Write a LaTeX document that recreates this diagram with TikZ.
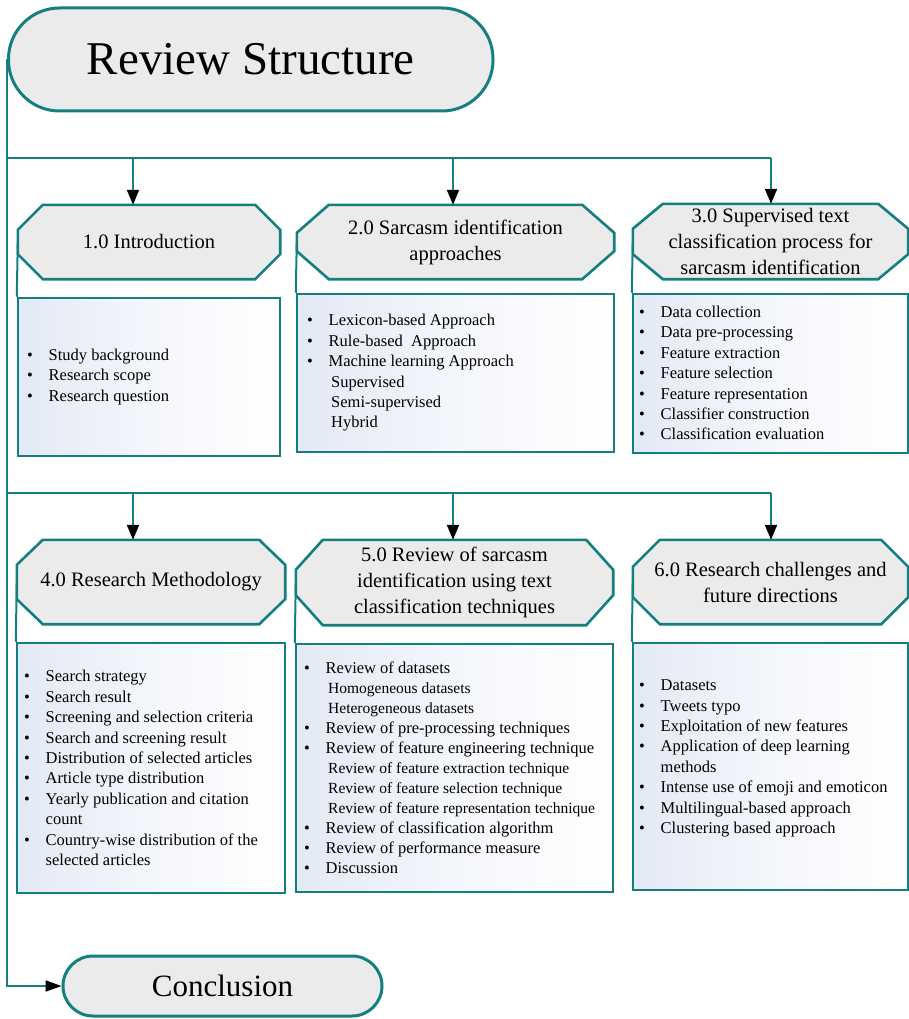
\documentclass[tikz,border=0pt]{standalone}
\usepackage{fontspec}
\setmainfont{Liberation Serif}
\usetikzlibrary{arrows.meta,calc}
\definecolor{teal0}{HTML}{137F7F}
\definecolor{hfill}{HTML}{EBEBEB}
\definecolor{cb}{HTML}{E3E9F5}
\pgfdeclarelayer{bg}
\pgfsetlayers{bg,main}
\newlength\bw \setlength\bw{21.5pt}
\newcommand\bi[1]{\makebox[\bw][l]{\textbullet}#1}
\newcommand\ci[1]{\hspace*{\bw}#1}
\newcommand\si[1]{\hspace*{\dimexpr\bw+2.5pt\relax}#1}
\newcommand\ssi[1]{\hspace*{\dimexpr\bw+2.5pt\relax}{\fontsize{15.5}{20}\selectfont #1}}
\newcommand\octa[3]{%
  \begin{pgfonlayer}{bg}
  \draw[hline] ($(#1.north west)+(#2pt,0pt)$) -- ($(#1.north east)+(-#2pt,0pt)$)
    -- ($(#1.north east)+(0pt,-#3pt)$) -- ($(#1.south east)+(0pt,#3pt)$)
    -- ($(#1.south east)+(-#2pt,0pt)$) -- ($(#1.south west)+(#2pt,0pt)$)
    -- ($(#1.south west)+(0pt,#3pt)$) -- ($(#1.north west)+(0pt,-#3pt)$) -- cycle;
  \end{pgfonlayer}}
\tikzset{
  conn/.style={draw=teal0, line width=2pt},
  arr/.style={conn, -{Triangle[length=15pt,width=12pt,color=black]}},
  term/.style={draw=teal0, line width=3pt, fill=hfill, rounded corners=#1, inner sep=0pt},
  hline/.style={draw=teal0, line width=2.6pt, fill=hfill, line join=miter},
  hdr/.style={align=center, inner sep=0pt, font=\fontsize{20.5}{26}\selectfont},
  cbox/.style={draw=teal0, line width=2.5pt, left color=cb, right color=white, middle color=white!60!cb, inner sep=0pt},
  lst/.style={align=left, anchor=west, inner sep=0pt, font=\fontsize{16.5}{20.4}\selectfont},
}
\begin{document}
\begin{tikzpicture}[x=1pt,y=-1pt]
\useasboundingbox (0,0) rectangle (909,1019);

% terminals
\node[term=51pt, minimum width=484.5pt, minimum height=103pt,
      font=\fontsize{47}{56}\selectfont] (top) at (250.75,59.5) {Review Structure};
\node[term=30pt, minimum width=319pt, minimum height=60pt,
      font=\fontsize{31}{37}\selectfont] (concl) at (222.5,986) {Conclusion};

% headers row 1
\node[hdr, minimum width=262pt, minimum height=74pt] (h1) at (149,242) {1.0 Introduction};
\node[hdr, minimum width=317pt, minimum height=74pt] (h2) at (455.5,242) {2.0 Sarcasm identification\\approaches};
\node[hdr, minimum width=275pt, minimum height=75pt] (h3) at (770.5,241.5) {3.0 Supervised text\\classification process for\\sarcasm identification};
\octa{h1}{25}{25}
\octa{h2}{32}{28}
\octa{h3}{30}{25}

% headers row 2
\node[hdr, minimum width=268pt, minimum height=84pt] (h4) at (151,582) {4.0 Research Methodology};
\node[hdr, minimum width=317pt, minimum height=85pt] (h5) at (454.5,582.5) {5.0 Review of sarcasm\\identification using text\\classification techniques};
\node[hdr, minimum width=275pt, minimum height=84pt] (h6) at (770.5,582) {6.0 Research challenges and\\future directions};
\octa{h4}{26}{25}
\octa{h5}{27}{30}
\octa{h6}{27}{27}

% content boxes
\node[cbox, minimum width=262pt, minimum height=158pt] (c1) at (149,377) {};
\node[cbox, minimum width=317pt, minimum height=158pt] (c2) at (455.5,373) {};
\node[cbox, minimum width=275pt, minimum height=159pt] (c3) at (770.5,373.5) {};
\node[cbox, minimum width=268pt, minimum height=250pt] (c4) at (151,768) {};
\node[cbox, minimum width=317pt, minimum height=248pt] (c5) at (454.5,768) {};
\node[cbox, minimum width=275pt, minimum height=247pt] (c6) at (770.5,766.5) {};

% lists
\node[lst] (l1) at (27,377) {\bi{Study background}\\\bi{Research scope}\\\bi{Research question}};
\node[lst] (l2) at (307,373) {\bi{Lexicon-based Approach}\\\bi{Rule-based~~Approach}\\\bi{Machine learning Approach}\\\si{Supervised}\\\si{Semi-supervised}\\\si{Hybrid}};
\node[lst] (l3) at (639,373) {\bi{Data collection}\\\bi{Data pre-processing}\\\bi{Feature extraction}\\\bi{Feature selection}\\\bi{Feature representation}\\\bi{Classifier construction}\\\bi{Classification evaluation}};
\node[lst] (l4) at (24,768) {\bi{Search strategy}\\\bi{Search result}\\\bi{Screening and selection criteria}\\\bi{Search and screening result}\\\bi{Distribution of selected articles}\\\bi{Article type distribution}\\\bi{Yearly publication and citation}\\\ci{count}\\\bi{Country-wise distribution of the}\\\ci{selected articles}};
\node[lst, font=\fontsize{16.5}{20}\selectfont] (l5) at (304,768) {\bi{Review of datasets}\\\ssi{Homogeneous datasets}\\\ssi{Heterogeneous datasets}\\\bi{Review of pre-processing techniques}\\\bi{Review of feature engineering technique}\\\ssi{Review of feature extraction technique}\\\ssi{Review of feature selection technique}\\\ssi{Review of feature representation technique}\\\bi{Review of classification algorithm}\\\bi{Review of performance measure}\\\bi{Discussion}};
\node[lst] (l6) at (639,758.5) {\bi{Datasets}\\\bi{Tweets typo}\\\bi{Exploitation of new features}\\\bi{Application of deep learning}\\\ci{methods}\\\bi{Intense use of emoji and emoticon}\\\bi{Multilingual-based approach}\\\bi{Clustering based approach}};

% branch points
\coordinate (a1) at (133,158);
\coordinate (a2) at (453,158);
\coordinate (a3) at (771,158);
\coordinate (b1) at (133,493);
\coordinate (b2) at (453,493);
\coordinate (b3) at (771,493);

% connectors
\draw[arr, -{Triangle[length=16pt,width=11pt,color=black]}] (top.west) |- (concl.west);
\draw[conn] (top.west |- a1) -- (a3);
\draw[conn] (top.west |- b1) -- (b3);
\draw[arr] (a1) -- (a1 |- h1.north);
\draw[arr] (a2) -- (a2 |- h2.north);
\draw[arr] (a3) -- (a3 |- h3.north);
\draw[arr] (b1) -- (b1 |- h4.north);
\draw[arr] (b2) -- (b2 |- h5.north);
\draw[arr] (b3) -- (b3 |- h6.north);
\draw[conn] (h1.west) -- (c1.north west);
\draw[conn] (h2.west) -- (c2.north west);
\draw[conn] (h3.west) -- (c3.north west);
\draw[conn] (h4.west) -- (c4.north west);
\draw[conn] (h5.west) -- (c5.north west);
\draw[conn] (h6.west) -- (c6.north west);
\end{tikzpicture}
\end{document}
